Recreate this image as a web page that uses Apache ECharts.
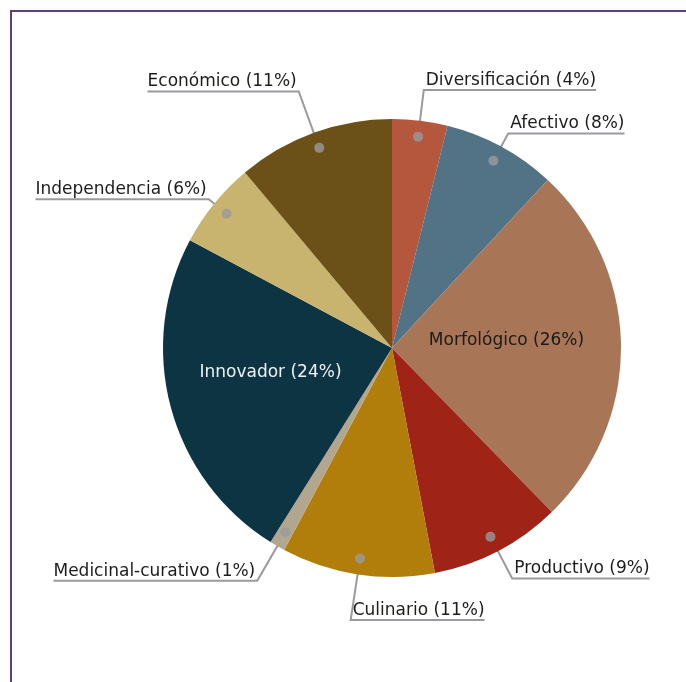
<!DOCTYPE html>
<html><head><meta charset="utf-8">
<script src="https://cdn.jsdelivr.net/npm/echarts@6/dist/echarts.min.js"></script>
<style>html,body{margin:0;padding:0;background:#fff}#c{width:686px;height:682px}</style>
</head><body><div id="c"></div>
<script>
const categories = ['Diversificación','Afectivo','Morfológico','Productivo','Culinario','Medicinal-curativo','Innovador','Independencia','Económico'];
const values = [3.9, 8.0, 25.8, 9.3, 10.8, 1.1, 23.9, 6.1, 11.1];

const colors = ['#b5573c','#527385','#a87656','#a02318','#b17e0b','#b2a68e','#0c3443','#c8b46f','#6b5118'];
const lineLen = {'Diversificación':31,'Afectivo':15,'Productivo':31,'Culinario':46,'Medicinal-curativo':40,'Independencia':7,'Económico':44};

const CX = 392, CY = 348, R = 229, DOT = 0.93;
const total = values.reduce((a,b)=>a+b,0);
let cum = 0;
const dots = [];
const isInside = v => v/total > 0.2;
const pieData = categories.map((name,i)=>{
  const v = values[i];
  const mid = cum + v/2; cum += v;
  const inside = isInside(v);
  if(!inside) dots.push([DOT, mid]);
  return {
    name, value: v,
    itemStyle:{color: colors[i]},
    label: inside ? {position:'inside', color: i===6 ? '#eef0f2' : '#1a1a1a'} : {position:'outside'},
    labelLine: inside ? {show:false} : {show:true, length: lineLen[name], length2: 0}
  };
});

const chart = echarts.init(document.getElementById('c'));
chart.setOption({
  backgroundColor:'#ffffff',
  animation:false,
  graphic:[{type:'rect', shape:{x:11,y:11,width:900,height:900}, style:{fill:'none', stroke:'#5e3f7f', lineWidth:2}, silent:true}],
  polar:{center:[CX,CY], radius:R},
  angleAxis:{type:'value', min:0, max:total, startAngle:90, clockwise:true, show:false},
  radiusAxis:{type:'value', min:0, max:1, show:false},
  series:[{
    type:'pie',
    center:[CX,CY],
    radius:[0,R],
    startAngle:90,
    clockwise:true,
    avoidLabelOverlap:false,
    data:pieData,
    itemStyle:{borderWidth:0},
    label:{
      fontFamily:'DejaVu Sans', fontSize:17, color:'#1c1c1c',
      formatter: p => p.name + ' (' + Math.round(p.percent) + '%)'
    },
    labelLine:{lineStyle:{color:'#9a9a9e', width:2}},
    labelLayout: function(p){
      if (isInside(values[p.dataIndex])) return {dy:-6, dx: p.labelRect.x < CX ? -8 : -3};
      const pts = p.labelLinePoints;
      if (!pts) return {};
      const e = pts[0], b = pts[1];
      const dx = e[0]-CX, dy = e[1]-CY;
      const d = Math.sqrt(dx*dx+dy*dy);
      const start = [CX + dx/d*R*DOT, CY + dy/d*R*DOT];
      const left = b[0] < CX - 45;
      const w = p.labelRect.width;
      const x = left ? b[0]-2 : b[0]+2;
      return {
        x: x, y: b[1]-1,
        align: left ? 'right' : 'left',
        verticalAlign: 'bottom',
        labelLinePoints: [start, b, [left ? x-w : x+w, b[1]]]
      };
    }
  },{
    type:'scatter',
    coordinateSystem:'polar',
    data:dots,
    symbolSize:10,
    itemStyle:{color:'#9a9a9e'},
    z:10,
    silent:true
  }]
});
</script>
</body></html>
